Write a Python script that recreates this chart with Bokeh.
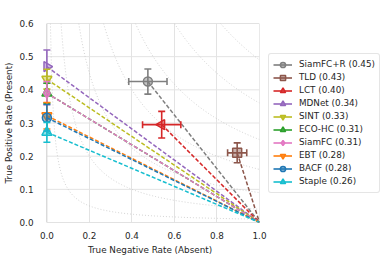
import numpy as np
from bokeh.plotting import figure
from bokeh.models import (ColumnDataSource, Legend, LegendItem, FixedTicker,
                          NumeralTickFormatter, Range1d)
from bokeh.embed import file_html
from bokeh.resources import INLINE

names = ["SiamFC+R", "TLD", "LCT", "MDNet", "SINT", "ECO-HC", "SiamFC", "EBT", "BACF", "Staple"]
scores = [0.45, 0.43, 0.40, 0.34, 0.33, 0.31, 0.31, 0.28, 0.28, 0.26]
tnr = [0.475, 0.895, 0.54, 0.0, 0.0, 0.0, 0.0, 0.0, 0.0, 0.0]
tpr = [0.425, 0.21, 0.295, 0.47, 0.432, 0.39, 0.39, 0.322, 0.316, 0.272]
tnr_err = [0.09, 0.045, 0.09, 0.0, 0.0, 0.0, 0.0, 0.0, 0.0, 0.0]
tpr_err = [0.038, 0.03, 0.04, 0.05, 0.03, 0.03, 0.035, 0.04, 0.04, 0.03]
colors = ["#7f7f7f", "#8c564b", "#d62728", "#9467bd", "#bcbd22", "#2ca02c",
          "#e377c2", "#ff7f0e", "#1f77b4", "#17becf"]
markers = ["circle", "square", "triangle", "triangle", "inverted_triangle", "triangle",
           "diamond", "inverted_triangle", "circle", "triangle"]
angles = [0, 0, np.pi / 2, -np.pi / 2, 0, 0, 0, 0, 0, 0]
iso_levels = [0.1, 0.2, 0.3, 0.4, 0.5, 0.6, 0.7, 0.8, 0.9]

x_ticks = [0.0, 0.2, 0.4, 0.6, 0.8, 1.0]
y_ticks = [0.0, 0.1, 0.2, 0.3, 0.4, 0.5, 0.6]
x_lo, x_hi, y_lo, y_hi = 0.0, 1.0, 0.0, 0.6
pad = 0.03
FS = "8.8px"

p = figure(width=376, height=246, frame_width=219, frame_height=199,
           output_backend="svg", toolbar_location=None,
           x_range=Range1d(x_lo - pad, x_hi), y_range=Range1d(y_lo, y_hi),
           min_border_left=34, min_border_right=0, min_border_top=23,
           min_border_bottom=20)
p.background_fill_color = "white"
p.outline_line_color = None
p.xgrid.grid_line_color = "#e3e3e3"
p.ygrid.grid_line_color = None
p.xaxis.ticker = FixedTicker(ticks=x_ticks)
p.yaxis.ticker = FixedTicker(ticks=y_ticks)
p.xgrid.ticker = FixedTicker(ticks=x_ticks)
for ax in (p.xaxis[0], p.yaxis[0]):
    ax.formatter = NumeralTickFormatter(format="0.0")
    ax.major_tick_line_color = None
    ax.minor_tick_line_color = None
    ax.axis_line_color = None
    ax.major_label_text_font = "DejaVu Sans"
    ax.major_label_text_font_size = FS
    ax.major_label_text_color = "#262626"
    ax.axis_label_text_font = "DejaVu Sans"
    ax.axis_label_text_font_size = FS
    ax.axis_label_text_font_style = "normal"
    ax.axis_label_text_color = "#262626"
    ax.axis_label_standoff = 3
p.xaxis.major_label_standoff = 3
p.yaxis.major_label_standoff = 1
p.xaxis.axis_label = "True Negative Rate (Absent)"
p.yaxis.axis_label = "True Positive Rate (Present)"

# horizontal grid lines spanning only the data area, plus spines
p.segment(x0=[x_lo] * len(y_ticks), y0=y_ticks, x1=[x_hi] * len(y_ticks), y1=y_ticks,
          line_color="#e3e3e3", line_width=1)
p.segment(x0=[x_lo, x_hi, x_lo, x_lo], y0=[y_lo, y_lo, y_hi, y_lo],
          x1=[x_lo, x_hi, x_hi, x_hi], y1=[y_hi, y_hi, y_hi, y_lo],
          line_color="#d4d4d4", line_width=1)

# iso-score curves (x * y = level^2)
for lv in iso_levels:
    xs = np.linspace(lv * lv / y_hi, 1.0, 200)
    p.line(xs, lv * lv / xs, line_color="#c8c8c8", line_dash="1 2", line_width=0.8)

items = []
for i in range(len(names)):
    c = colors[i]
    p.line([tnr[i], 1.0], [tpr[i], 0.0], line_color=c, line_dash="4 2", line_width=1.5)
    src = ColumnDataSource(dict(
        x=[tnr[i]], y=[tpr[i]],
        x0=[tnr[i] - tnr_err[i]], x1=[tnr[i] + tnr_err[i]],
        y0=[tpr[i] - tpr_err[i]], y1=[tpr[i] + tpr_err[i]]))
    rends = []
    if tnr_err[i] > 0:
        h = p.segment(x0="x0", y0="y", x1="x1", y1="y", source=src, line_color=c, line_width=1.6)
        rends.append(h)
        for k in ("x0", "x1"):
            p.scatter(x=k, y="y", source=src, marker="dash", angle=np.pi / 2, size=7,
                      line_color=c, line_width=1.6)
    v = p.segment(x0="x", y0="y0", x1="x", y1="y1", source=src, line_color=c, line_width=1.6)
    if not rends:
        rends.append(v)
    for k in ("y0", "y1"):
        p.scatter(x="x", y=k, source=src, marker="dash", size=7, line_color=c, line_width=1.6)
    sz = 9 if markers[i] in ("circle", "square") else 10
    m = p.scatter(x="x", y="y", source=src, marker=markers[i], angle=angles[i], size=sz,
                  line_color=c, line_width=1.5, fill_color=c, fill_alpha=0.45)
    rends.append(m)
    items.append(LegendItem(label="%s (%.2f)" % (names[i], scores[i]), renderers=rends))

legend = Legend(items=items, location="center_left")
legend.label_text_font = "DejaVu Sans"
legend.label_text_font_size = FS
legend.label_text_color = "#262626"
legend.label_height = 11
legend.glyph_height = 13
legend.glyph_width = 19
legend.spacing = 0
legend.padding = 4
legend.margin = 9
legend.border_line_color = "#cccccc"
legend.border_radius = 3
legend.background_fill_alpha = 0.9
legend.label_standoff = 7
p.add_layout(legend, "right")

open("out.html", "w").write(file_html(p, INLINE))
